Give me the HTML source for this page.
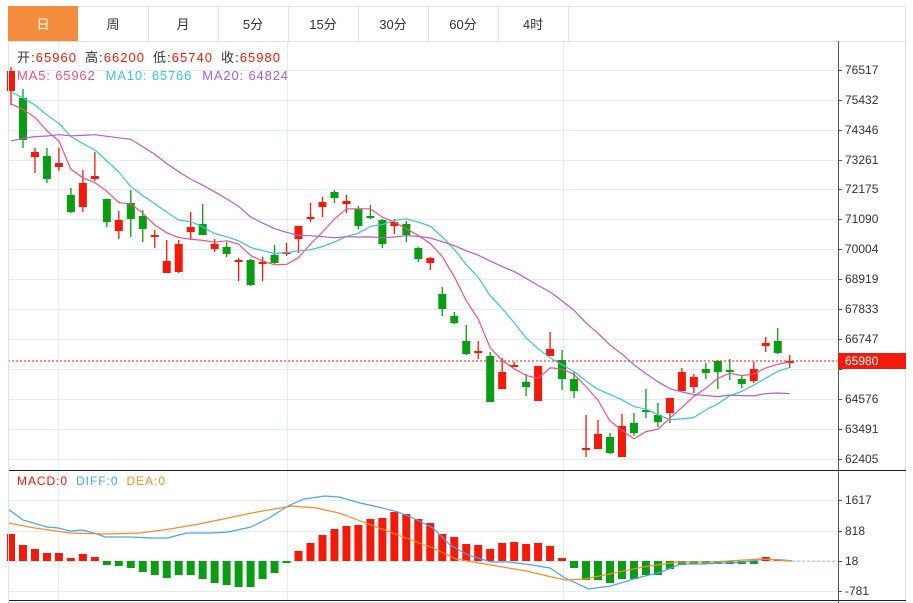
<!DOCTYPE html>
<html><head><meta charset="utf-8"><style>
body{margin:0;background:#fff;width:913px;height:603px;overflow:hidden;font-family:"Liberation Sans","Noto Sans CJK SC",sans-serif}
svg{position:absolute;left:0;top:0}
</style></head><body>
<svg id="s" width="913" height="603" xmlns="http://www.w3.org/2000/svg" font-family="Liberation Sans, Noto Sans CJK SC, sans-serif">
<rect x="8.5" y="6.5" width="897" height="596" fill="#fff" stroke="#dfe3e8"/>
<rect x="8" y="6" width="70" height="35" fill="#f58d3e"/>
<g stroke="#dfe3e8"><line x1="148.5" y1="6" x2="148.5" y2="41"/><line x1="218.5" y1="6" x2="218.5" y2="41"/><line x1="288.5" y1="6" x2="288.5" y2="41"/><line x1="358.5" y1="6" x2="358.5" y2="41"/><line x1="428.5" y1="6" x2="428.5" y2="41"/><line x1="498.5" y1="6" x2="498.5" y2="41"/><line x1="568.5" y1="6" x2="568.5" y2="41"/><line x1="8" y1="41.5" x2="906" y2="41.5"/></g>
<g font-size="13" text-anchor="middle" fill="#333"><text x="43" y="29" fill="#fff">日</text><text x="113" y="29">周</text><text x="183" y="29">月</text><text x="253" y="29">5分</text><text x="323" y="29">15分</text><text x="393" y="29">30分</text><text x="463" y="29">60分</text><text x="533" y="29">4时</text></g>
<g id="grid" stroke="#e4ecf3" stroke-width="1"></g>
<g id="cand"></g>
<g id="ma" fill="none" stroke-width="1.2"></g>
<g id="macd"></g>
<polyline fill="none" stroke="#4aa3f0" stroke-width="1.2" points="8,509 23,520 47,527 58,528 70,531 82,530 94,533 105,537 129,537 152,538 167,538 187,533 211,533 228,532 251,527 269,518 288,506 304,499 325,496 339,497 360,503 374,506 398,512 415,519 433,528 450,545 468,555 491,562 509,562 532,565 550,568 565,578 589,589 611,586 637,578 661,572 681,564 702,564 743,562 766,559 784,560 792,561"/>
<polyline fill="none" stroke="#f78c27" stroke-width="1.2" points="8,523 35,528 70,533 105,534 140,533 170,529 199,524 228,518 257,512 292,506 316,508 339,513 363,522 398,535 433,548 456,559 491,565 526,571 565,580 585,579 614,573 643,567 678,562 713,562 760,559 792,561"/>
<line x1="792" y1="561" x2="837" y2="561" stroke="#9cc9ef" stroke-dasharray="3,2"/>
<line x1="8" y1="361" x2="837" y2="361" stroke="#f21a0a" stroke-dasharray="2,2"/>
<line x1="8" y1="470.5" x2="906" y2="470.5" stroke="#222"/>
<line x1="8" y1="600.5" x2="906" y2="600.5" stroke="#222"/>
<line x1="838.5" y1="41" x2="838.5" y2="603" stroke="#555"/>
<line x1="8.5" y1="41" x2="8.5" y2="603" stroke="#dfe3e8"/>
<g id="ylab" font-size="12" fill="#333"></g>
<rect x="838" y="353" width="68" height="16" fill="#f21a0a"/>
<text x="845" y="365" font-size="12" fill="#fff">65980</text>
<g font-size="13"><text x="17" y="62" textLength="263" lengthAdjust="spacing"><tspan fill="#333">开:</tspan><tspan fill="#f21a0a">65960</tspan><tspan fill="#333" dx="8">高:</tspan><tspan fill="#f21a0a">66200</tspan><tspan fill="#333" dx="8">低:</tspan><tspan fill="#f21a0a">65740</tspan><tspan fill="#333" dx="8">收:</tspan><tspan fill="#f21a0a">65980</tspan></text>
<text x="17" y="80" textLength="271" lengthAdjust="spacing"><tspan fill="#f0527e">MA5: 65962</tspan><tspan fill="#3bc3d8" dx="10">MA10: 65766</tspan><tspan fill="#b35ec9" dx="10">MA20: 64824</tspan></text></g>
<text x="17" y="485" font-size="12" textLength="148" lengthAdjust="spacing"><tspan fill="#f21a0a">MACD:0</tspan><tspan fill="#4aa3f0" dx="8">DIFF:0</tspan><tspan fill="#f78c27" dx="8">DEA:0</tspan></text>
</svg>
<script>
var NS="http://www.w3.org/2000/svg";
function el(p,t,a){var e=document.createElementNS(NS,t);for(var k in a)e.setAttribute(k,a[k]);document.getElementById(p).appendChild(e);return e;}
var ys=[70,100,130,160,189,219,249,279,309,339,369,399,429,459],lb=["76517","75432","74346","73261","72175","71090","70004","68919","67833","66747","65662","64576","63491","62405"];
ys.forEach(function(y,i){el("grid","line",{x1:8,y1:y+.5,x2:838,y2:y+.5});el("ylab","line",{x1:838,y1:y+.5,x2:842,y2:y+.5,stroke:"#555"});if(i!=10)el("ylab","text",{x:845,y:y+4}).textContent=lb[i];});
[[500,"1617"],[531,"818"],[561,"18"],[591,"-781"]].forEach(function(a){el("grid","line",{x1:8,y1:a[0]+.5,x2:838,y2:a[0]+.5});el("ylab","line",{x1:838,y1:a[0]+.5,x2:842,y2:a[0]+.5,stroke:"#555"});el("ylab","text",{x:845,y:a[0]+4}).textContent=a[1];});
[58,287,563].forEach(function(x){el("grid","line",{x1:x+.5,y1:42,x2:x+.5,y2:600});});
var C=[[91,71,67,105],[98,140,89,148],[157,152,148,173],[156,179,148,183],[167,163,148,171],[195,212,188,213],[207,183,170,212],[179,176,152,181],[199,222,199,227],[231,220,211,239],[203,219,190,237],[216,229,210,242],[237,235,230,248],[273,261,240,273],[272,244,240,273],[232,227,212,240],[224,235,204,235],[249,244,239,252],[247,254,242,257],[262,260,258,281],[260,285,259,286],[264,262,257,281],[255,263,245,264],[253,252,243,256],[239,226,226,253],[218,217,203,222],[207,202,197,217],[192,198,190,203],[204,201,195,213],[209,226,206,229],[216,217,205,219],[220,244,219,248],[226,222,219,234],[224,235,221,242],[248,259,247,262],[263,258,257,270],[294,309,287,316],[316,323,312,324],[341,354,325,355],[353,351,341,359],[356,402,352,402],[389,372,358,389],[367,365,362,367],[382,387,374,396],[401,366,366,401],[356,349,332,356],[360,379,350,390],[379,391,372,398],[450,448,415,457],[449,434,420,449],[437,453,433,454],[457,426,414,457],[423,433,413,436],[410,412,389,418],[415,422,403,427],[413,398,398,423],[391,372,368,391],[387,377,374,393],[369,373,363,379],[361,372,360,389],[370,372,359,380],[379,384,375,388],[381,369,362,383],[346,343,337,352],[341,353,328,354],[362,361,355,368]];
var M=[27,16,12,8,8,3,7,4,-4,-5,-7,-11,-14,-17,-14,-14,-18,-22,-24,-26,-26,-18,-12,-2,10,18,26,32,35,36,42,43,49,47,42,38,27,24,17,16,12,18,19,17,18,15,3,-7,-19,-19,-22,-18,-18,-14,-14,-8,-4,-3,-3,-3,-3,-3,-3,4,1,0];
var R="#f21a0a",G="#0a9c12";
C.forEach(function(c,i){var x=11+11.98*i,up=c[1]<c[0]||(c[1]==c[0]&&i%2==0),col=up?R:G;
 if(i==12||i==19||i==21||i==23||i==25||i==39||i==42||i==48||i==65||i==63)col=R;
 if(i==30||i==53||i==60)col=G;
 el("cand","line",{x1:x,y1:c[2],x2:x,y2:c[3],stroke:col,"stroke-width":1.3});
 var t=Math.min(c[0],c[1]),h=Math.max(2,Math.abs(c[0]-c[1]));
 el("cand","rect",{x:x-4,y:t,width:8,height:h,fill:col});
 var m=M[i];if(m!=0){el("macd","rect",{x:x-4,y:m>0?561-m:561,width:8,height:Math.abs(m),fill:m>0?R:G});}
});
var cl=[190,190,190,190,190,190,190,190,190,190,80,80,80,80,80,112,112,112,112].concat(C.map(function(c){return c[1];}));
function ma(n,col){var p=[];for(var i=0;i<C.length;i++){var j=i+19,s=0;for(var k=0;k<n;k++)s+=cl[j-k];p.push((11+11.98*i).toFixed(1)+","+(s/n).toFixed(1));}
 el("ma","polyline",{points:p.join(" "),stroke:col});}
ma(5,"#f0527e");ma(10,"#3bc3d8");ma(20,"#b35ec9");
</script>
</body></html>
